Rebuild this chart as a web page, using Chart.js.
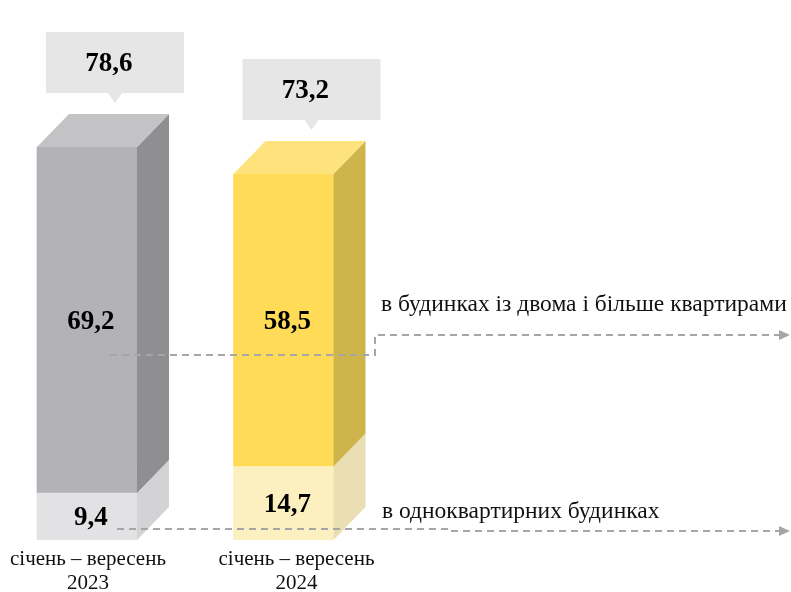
<!DOCTYPE html>
<html>
<head>
<meta charset="utf-8">
<script src="https://cdn.jsdelivr.net/npm/chart.js@4"></script>
<style>
  body { margin: 0; background: #fff; }
  #chart { display: block; }
</style>
</head>
<body>
<canvas id="chart" width="791" height="592"></canvas>
<script>
// Data
const categories = [['січень – вересень', '2023'], ['січень – вересень', '2024']];
const seriesNames = ['в одноквартирних будинках', 'в будинках із двома і більше квартирами'];
const singleFlat = [9.4, 14.7];
const multiFlat = [69.2, 58.5];
const totals = [78.6, 73.2];

// Colours: [bar 2023, bar 2024]
const frontColors = [['#e2e2e4', '#fdf0c0'], ['#b3b3b7', '#ffdb58']];
const sideColors = [['#d3d3d5', '#eadfb3'], ['#8f8f91', '#cdb44b']];
const topColors = ['#c3c3c6', '#fee37c'];

const DX = 32, DY = 33;
const SERIF = '"Liberation Serif", "Times New Roman", serif';

const fmt = v => v.toFixed(1).replace('.', ',');

function dashedArrow(ctx, pts) {
    ctx.save();
    ctx.strokeStyle = '#a6a6a6';
    ctx.fillStyle = '#a6a6a6';
    ctx.lineWidth = 2;
    ctx.setLineDash([7, 5]);
    ctx.beginPath();
    ctx.moveTo(pts[0][0], pts[0][1]);
    for (let i = 1; i < pts.length; i++) ctx.lineTo(pts[i][0], pts[i][1]);
    ctx.stroke();
    ctx.setLineDash([]);
    const [ex, ey] = pts[pts.length - 1];
    ctx.beginPath();
    ctx.moveTo(ex + 2, ey);
    ctx.lineTo(ex - 9, ey - 5);
    ctx.lineTo(ex - 9, ey + 5);
    ctx.closePath();
    ctx.fill();
    ctx.restore();
}

const bars3d = {
    id: 'bars3d',
    afterDatasetsDraw(chart) {
        const ctx = chart.ctx;
        const last = chart.data.datasets.length - 1;

        // side and top faces
        chart.data.datasets.forEach((ds, di) => {
            chart.getDatasetMeta(di).data.forEach((bar, i) => {
                const { x, y, base, width } = bar.getProps(['x', 'y', 'base', 'width'], true);
                const l = x - width / 2, r = x + width / 2;
                ctx.fillStyle = sideColors[di][i];
                ctx.beginPath();
                ctx.moveTo(r, y);
                ctx.lineTo(r + DX, y - DY);
                ctx.lineTo(r + DX, base - DY);
                ctx.lineTo(r, base);
                ctx.closePath();
                ctx.fill();
                if (di === last) {
                    ctx.fillStyle = topColors[i];
                    ctx.beginPath();
                    ctx.moveTo(l, y);
                    ctx.lineTo(l + DX, y - DY);
                    ctx.lineTo(r + DX, y - DY);
                    ctx.lineTo(r, y);
                    ctx.closePath();
                    ctx.fill();
                }
            });
        });

        // connectors to the series names
        dashedArrow(ctx, [[110, 355], [375, 355], [375, 335], [788, 335]]);
        dashedArrow(ctx, [[117, 529], [450, 529], [450, 531], [788, 531]]);

        ctx.save();
        ctx.fillStyle = '#111';
        ctx.font = '23.5px ' + SERIF;
        ctx.textAlign = 'left';
        ctx.textBaseline = 'middle';
        ctx.fillText(seriesNames[1], 381, 305);
        ctx.fillText(seriesNames[0], 382, 512);
        ctx.restore();

        // value labels inside the segments
        ctx.save();
        ctx.font = 'bold 27px ' + SERIF;
        ctx.fillStyle = '#000';
        ctx.textAlign = 'center';
        ctx.textBaseline = 'middle';
        chart.data.datasets.forEach((ds, di) => {
            chart.getDatasetMeta(di).data.forEach((bar, i) => {
                const { x, y, base } = bar.getProps(['x', 'y', 'base'], true);
                ctx.fillText(fmt(ds.data[i].y), x + 4, (y + base) / 2 + 2);
            });
        });
        ctx.restore();

        // total callouts above each bar
        ctx.save();
        chart.getDatasetMeta(last).data.forEach((bar, i) => {
            const { x, y } = bar.getProps(['x', 'y'], true);
            const cx = x + 28, bottom = y - DY - 21;
            const w = 138, h = 61;
            ctx.fillStyle = '#e6e6e6';
            ctx.fillRect(cx - w / 2, bottom - h, w, h);
            ctx.beginPath();
            ctx.moveTo(cx - 7, bottom);
            ctx.lineTo(cx, bottom + 10);
            ctx.lineTo(cx + 7, bottom);
            ctx.closePath();
            ctx.fill();
            ctx.fillStyle = '#000';
            ctx.font = 'bold 27px ' + SERIF;
            ctx.textAlign = 'center';
            ctx.textBaseline = 'middle';
            ctx.fillText(fmt(totals[i]), cx - 6, bottom - h / 2 + 2);
        });
        ctx.restore();

        // category labels under the bars
        ctx.save();
        ctx.fillStyle = '#111';
        ctx.font = '21px ' + SERIF;
        ctx.textAlign = 'center';
        ctx.textBaseline = 'middle';
        const xs = chart.scales.x;
        categories.forEach((lines, i) => {
            const px = xs.getPixelForValue(i) + (i === 0 ? 1 : 13);
            lines.forEach((t, k) => ctx.fillText(t, px, 559 + k * 24));
        });
        ctx.restore();
    }
};

const toPoints = arr => arr.map((v, i) => ({ x: i, y: v }));

new Chart(document.getElementById('chart'), {
    type: 'bar',
    data: {
        datasets: [
            {
                label: seriesNames[0],
                data: toPoints(singleFlat),
                backgroundColor: frontColors[0],
                barThickness: 100
            },
            {
                label: seriesNames[1],
                data: toPoints(multiFlat),
                backgroundColor: frontColors[1],
                barThickness: 100
            }
        ]
    },
    options: {
        responsive: false,
        animation: false,
        layout: { padding: { bottom: 52 } },
        plugins: {
            legend: { display: false },
            tooltip: { enabled: false }
        },
        scales: {
            x: {
                type: 'linear',
                display: false,
                stacked: true,
                offset: false,
                min: -0.4427,
                max: 3.5827
            },
            y: {
                display: false,
                stacked: true,
                min: 0,
                max: 108
            }
        }
    },
    plugins: [bars3d]
});
</script>
</body>
</html>
